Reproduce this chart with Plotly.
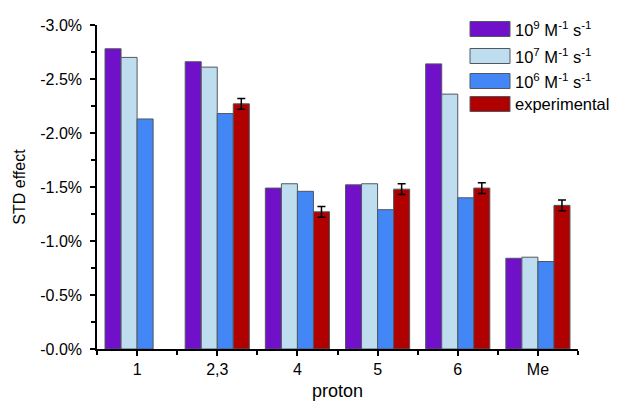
import plotly.graph_objects as go

categories = ["1", "2,3", "4", "5", "6", "Me"]
series_names = ["10<sup>9</sup> M<sup>-1</sup> s<sup>-1</sup>",
                "10<sup>7</sup> M<sup>-1</sup> s<sup>-1</sup>",
                "10<sup>6</sup> M<sup>-1</sup> s<sup>-1</sup>",
                "experimental"]
k1e9 = [-0.0278, -0.0266, -0.0149, -0.0152, -0.0264, -0.0084]
k1e7 = [-0.0270, -0.0261, -0.0153, -0.0153, -0.0236, -0.0085]
k1e6 = [-0.0213, -0.0218, -0.0146, -0.0129, -0.0140, -0.0081]
experimental = [None, -0.0227, -0.0127, -0.0148, -0.0149, -0.0133]
experimental_err = [None, 0.0005, 0.0005, 0.0005, 0.0005, 0.0005]
y_tickvals = [0, -0.005, -0.010, -0.015, -0.020, -0.025, -0.030]
y_ticktext = ["-0.0%", "-0.5%", "-1.0%", "-1.5%", "-2.0%", "-2.5%", "-3.0%"]

colors = ["#7010C8", "#BEDEF0", "#4287F5", "#B00000"]
outline = "#505860"

xpos = list(range(len(categories)))
fig = go.Figure()
for name, vals, col in zip(series_names, [k1e9, k1e7, k1e6, experimental], colors):
    kw = {}
    if vals is experimental:
        kw["error_y"] = dict(type="data", array=experimental_err, color="black",
                             thickness=1.5, width=4)
    fig.add_trace(go.Bar(x=xpos, y=vals, name=name, marker_color=col,
                         marker_line=dict(color=outline, width=1),
                         showlegend=False, **kw))

# page body adds an 8px offset; compensate so the figure fills 619x401 on screen
OFF = 8
W, H = 619 - OFF, 401 - OFF
# plot area in screen pixels
L, R, T, B = 97, 578, 25, 349

def px(x):
    return (x - L) / (R - L)

def py(y):
    return (B - y) / (B - T)

font = "Liberation Sans, Arial, sans-serif"

# manual legend
leg_y = [29, 56, 81, 104]
shapes = []
annotations = []
for name, col, yc in zip(series_names, colors, leg_y):
    shapes.append(dict(type="rect", xref="paper", yref="paper",
                       x0=px(470), x1=px(510), y0=py(yc + 7.5), y1=py(yc - 7.5),
                       fillcolor=col, line=dict(color=outline, width=1)))
    annotations.append(dict(xref="paper", yref="paper", x=px(513), y=py(yc),
                            text=name, showarrow=False, xanchor="left",
                            yanchor="middle", font=dict(size=16.5, color="black",
                                                        family=font)))

fig.update_layout(
    width=W, height=H,
    margin=dict(l=L - OFF, r=619 - R, t=T - OFF, b=401 - B),
    paper_bgcolor="white", plot_bgcolor="white",
    barmode="group", bargap=0.2, bargroupgap=0,
    font=dict(family=font, size=16, color="black"),
    shapes=shapes, annotations=annotations,
    xaxis=dict(range=[-0.5, 5.5], tickvals=xpos, ticktext=categories,
               showgrid=False, zeroline=False, showline=True,
               linecolor="black", linewidth=1.5, ticks="outside",
               ticklen=5, tickwidth=1.5, tickcolor="black",
               minor=dict(ticks="outside", tick0=0.5, dtick=1, ticklen=4,
                          tickwidth=1.5, tickcolor="black"),
               title=dict(text="proton", font=dict(size=18), standoff=7),
               tickfont=dict(size=16), automargin=False),
    yaxis=dict(range=[0, -0.030], tickvals=y_tickvals, ticktext=y_ticktext,
               showgrid=False, zeroline=False, showline=True,
               linecolor="black", linewidth=1.5, ticks="outside",
               ticklen=5, tickwidth=1.5, tickcolor="black",
               ticklabelstandoff=5,
               minor=dict(ticks="outside", tick0=0, dtick=0.0025, ticklen=4,
                          tickwidth=1.5, tickcolor="black"),
               title=dict(text="STD effect", font=dict(size=16), standoff=11),
               tickfont=dict(size=16), automargin=False),
)

fig.write_html("out.html")
